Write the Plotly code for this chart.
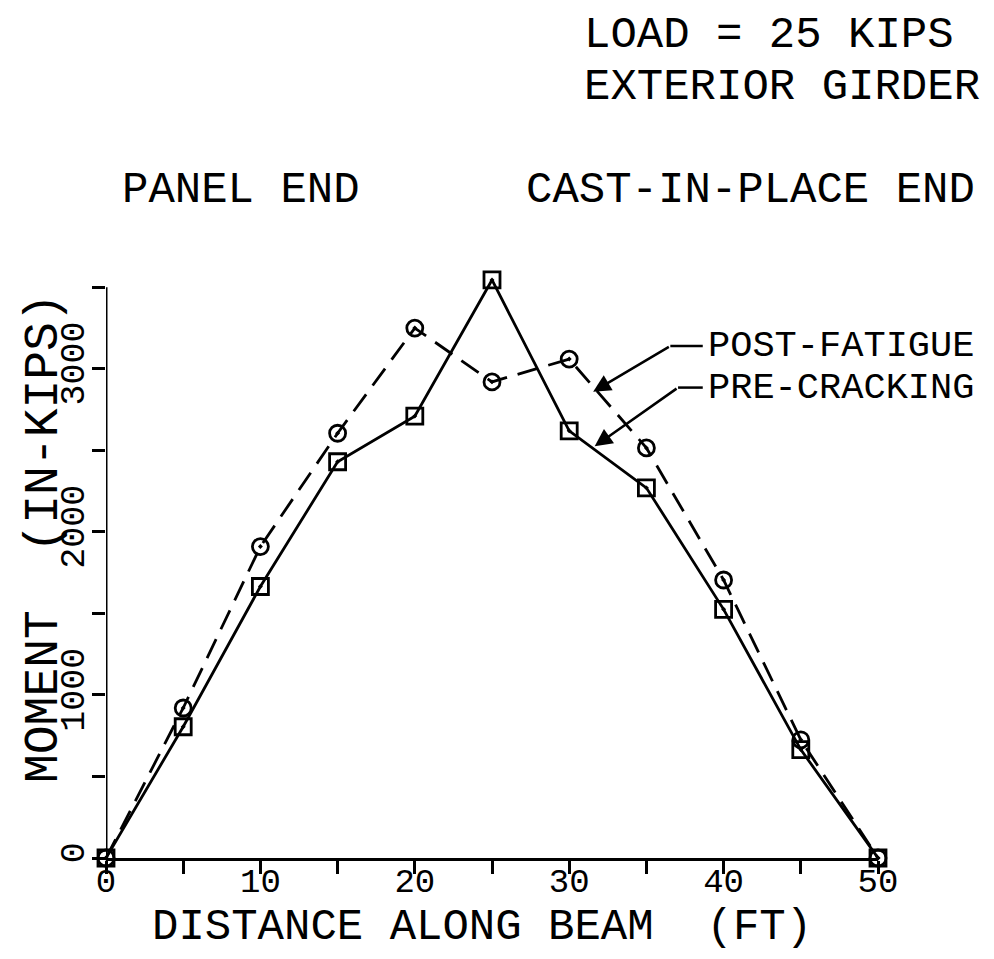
import plotly.graph_objects as go

# Distance along the beam (ft) and measured moments (in-kips)
distance_ft = [0, 5, 10, 15, 20, 25, 30, 35, 40, 45, 50]
moment_pre_cracking = [0, 805, 1665, 2430, 2710, 3545, 2620, 2270, 1525, 665, 0]
moment_post_fatigue = [0, 920, 1910, 2605, 3250, 2920, 3060, 2515, 1705, 725, 0]

x_ticks = [0, 10, 20, 30, 40, 50]
y_ticks = [0, 1000, 2000, 3000]
y_axis_top = 3500

FONT = "Liberation Mono"
INK = "black"

fig = go.Figure()

fig.add_trace(go.Scatter(
    x=distance_ft, y=moment_post_fatigue, mode="lines+markers",
    name="POST-FATIGUE",
    line=dict(color=INK, width=2.8, dash="21px,11px"),
    marker=dict(symbol="circle-open-dot", size=16, color=INK,
                line=dict(color=INK, width=2.8)),
    cliponaxis=False,
))
fig.add_trace(go.Scatter(
    x=distance_ft, y=moment_pre_cracking, mode="lines+markers",
    name="PRE-CRACKING",
    line=dict(color=INK, width=2.8),
    marker=dict(symbol="square-open-dot", size=16, color=INK,
                line=dict(color=INK, width=2.8)),
    cliponaxis=False,
))

tick_common = dict(
    showgrid=False, zeroline=False,
    ticks="outside", ticklen=13, tickwidth=2.5, tickcolor=INK, color=INK,
)

fig.update_xaxes(
    range=[0, 50], tickvals=x_ticks, ticktext=[str(v) for v in x_ticks],
    showline=True, linewidth=3, linecolor=INK,
    tickfont=dict(family=FONT, size=34, color=INK),
    ticklabelstandoff=-23,
    minor=dict(dtick=5, ticklen=13, tickwidth=2.5, tickcolor=INK, ticks="outside"),
    **tick_common,
)
fig.update_yaxes(
    range=[0, 3600], tickvals=y_ticks, ticktext=[str(v) for v in y_ticks],
    showline=False, tickangle=-90,
    tickfont=dict(family=FONT, size=35, color=INK),
    ticklabelstandoff=-6,
    minor=dict(dtick=500, ticklen=13, tickwidth=2.5, tickcolor=INK, ticks="outside"),
    **tick_common,
)

# left axis spine stops at the last labelled minor tick
fig.add_shape(type="line", xref="x", yref="y", x0=0, x1=0, y0=0, y1=y_axis_top,
              line=dict(color=INK, width=3))

# pixel helpers for paper-referenced text placement
L, R, T, B = 106, 116, 271, 101
W, H = 994, 959
PW, PH = W - L - R, H - T - B


def px(xp):
    return (xp - L) / PW


def py(yp):
    return (H - B - yp) / PH


annotations = [
    dict(text="LOAD = 25 KIPS", x=px(582), y=py(35), xanchor="left", size=44),
    dict(text="EXTERIOR GIRDER", x=px(582), y=py(87), xanchor="left", size=44),
    dict(text="PANEL END", x=px(241), y=py(190), xanchor="center", size=44),
    dict(text="CAST-IN-PLACE END", x=px(750), y=py(190), xanchor="center", size=44),
    dict(text="POST-FATIGUE", x=px(706), y=py(346), xanchor="left", size=37),
    dict(text="PRE-CRACKING", x=px(706), y=py(388), xanchor="left", size=37),
    dict(text="DISTANCE ALONG BEAM  (FT)", x=px(482), y=py(927),
         xanchor="center", size=44),
    dict(text="MOMENT  (IN-KIPS)", x=px(44), y=py(538), textangle=-90,
         xanchor="center", size=48),
]
for a in annotations:
    size = a.pop("size")
    a.update(xref="paper", yref="paper", yanchor="middle", showarrow=False,
             font=dict(family=FONT, size=size, color=INK))

# leader arrows from the series labels to the curves
leaders = [
    # (tip x, tip y, elbow x, elbow y, label-side x)
    (31.55, 2860, 36.55, 3140, 38.65),
    (31.65, 2525, 37.05, 2885, 38.65),
]
for tx, ty, ex, ey, lx in leaders:
    annotations.append(dict(
        x=tx, y=ty, ax=ex, ay=ey, xref="x", yref="y", axref="x", ayref="y",
        text="", showarrow=True, arrowhead=2, arrowsize=1.4, arrowwidth=2.5,
        arrowcolor=INK, standoff=0,
    ))
    fig.add_shape(type="line", xref="x", yref="y", x0=ex, y0=ey, x1=lx, y1=ey,
                  line=dict(color=INK, width=2.5))

fig.update_layout(
    width=W, height=H, autosize=False,
    margin=dict(l=L, r=R, t=T, b=B, pad=0),
    paper_bgcolor="white", plot_bgcolor="white",
    showlegend=False,
    annotations=annotations,
    font=dict(family=FONT, color=INK),
)

fig.write_html("out.html")
